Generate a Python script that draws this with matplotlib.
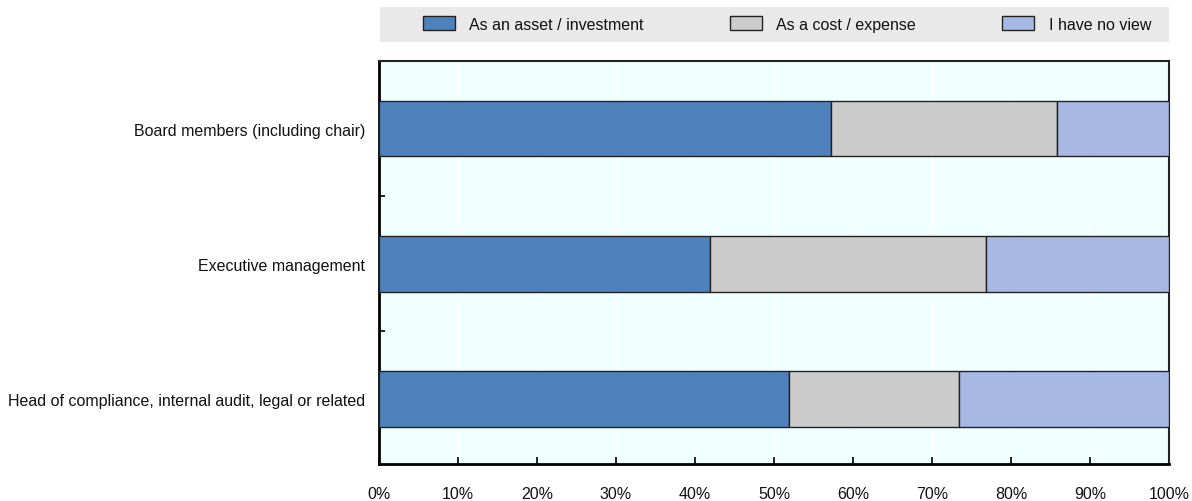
import matplotlib.pyplot as plt
from matplotlib.patches import Patch
from matplotlib.ticker import FixedLocator, PercentFormatter

categories = ["Board members (including chair)",
              "Executive management",
              "Head of compliance, internal audit, legal or related"]
asset = [57.2, 41.9, 51.9]
cost = [28.6, 34.9, 21.5]
no_view = [14.2, 23.2, 26.6]
series_names = ["As an asset / investment", "As a cost / expense", "I have no view"]
colors = ["#4F81BD", "#CCCCCC", "#A7B8E3"]

plt.rcParams["font.family"] = ["Liberation Sans", "DejaVu Sans"]
plt.rcParams["font.size"] = 11.5

fig = plt.figure(figsize=(11.92, 5.02), dpi=100)
ax = fig.add_axes([379 / 1192, 1 - 465 / 502, 790 / 1192, 403 / 502])
ax.set_facecolor("#F0FFFF")

pos = list(range(len(categories)))
left = [0] * len(categories)
for vals, col in zip([asset, cost, no_view], colors):
    ax.barh(pos, vals, left=left, height=0.41, color=col,
            edgecolor="#222222", linewidth=1, zorder=3)
    left = [l + v for l, v in zip(left, vals)]

ax.set_xlim(0, 100)
ax.set_ylim(2.48, -0.5)
ax.set_yticks(pos)
ax.set_yticklabels(categories, color="#111111")
ax.yaxis.set_minor_locator(FixedLocator([0.5, 1.5]))
ax.tick_params(axis="y", which="major", length=0, pad=10)
ax.tick_params(axis="y", which="minor", length=4, width=1.2, direction="in")
ax.set_xticks(range(0, 101, 10))
ax.xaxis.set_major_formatter(PercentFormatter(decimals=0))
ax.tick_params(axis="x", length=5, width=1.2, direction="in", pad=16,
               labelsize=11.5, labelcolor="#111111")
ax.grid(axis="x", color="white", linewidth=1, zorder=0)

for side in ["left", "bottom"]:
    ax.spines[side].set_linewidth(2)
    ax.spines[side].set_color("black")
for side in ["top", "right"]:
    ax.spines[side].set_linewidth(1.5)
    ax.spines[side].set_color("#222222")

# legend strip on top
lax = fig.add_axes([380 / 1192, 1 - 43 / 502, 789 / 1192, 35 / 502])
lax.set_facecolor("#E9E9E9")
lax.set_xticks([])
lax.set_yticks([])
for s in lax.spines.values():
    s.set_visible(False)
handles = [Patch(facecolor=c, edgecolor="#222222", linewidth=1) for c in colors]
leg = lax.legend(handles, series_names, loc="center", ncol=3, frameon=False,
                 bbox_to_anchor=(787 / 1192, 1 - 25 / 502),
                 bbox_transform=fig.transFigure,
                 handlelength=2.0, handleheight=0.9, columnspacing=5.4,
                 handletextpad=0.9, fontsize=11.5)
for t in leg.get_texts():
    t.set_color("#111111")

fig.savefig("out.png", dpi=100)
